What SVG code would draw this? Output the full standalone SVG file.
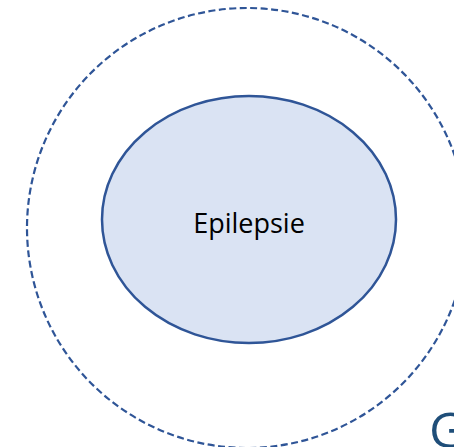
<svg xmlns="http://www.w3.org/2000/svg" width="454" height="447" viewBox="0 0 454 447">
  <style>
    .outer { fill: none; stroke: #2F5597; stroke-width: 2.2; stroke-dasharray: 7 3.5; }
    .inner { fill: #DAE3F3; stroke: #2F5597; stroke-width: 2.5; }
    .label { font-family: "Open Sans", "Liberation Sans", sans-serif; font-size: 27px; fill: #000; text-anchor: middle; }
    .corner { font-family: "Open Sans", "Liberation Sans", sans-serif; font-size: 50px; fill: #1F4E79; }
  </style>
  <rect width="454" height="447" fill="#FFFFFF"/>
  <g id="context">
    <circle class="outer" cx="247" cy="228" r="220"/>
  </g>
  <g id="epilepsie">
    <ellipse class="inner" cx="249" cy="219.5" rx="147" ry="123.5"/>
    <text class="label" x="249" y="232.5">Epilepsie</text>
  </g>
  <g id="connectors"/>
  <text class="corner" x="429" y="448">G</text>
</svg>
